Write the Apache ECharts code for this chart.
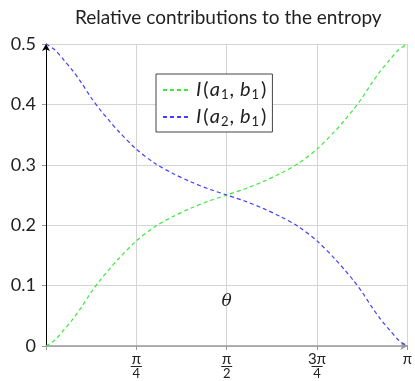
<!DOCTYPE html>
<html>
<head>
<meta charset="utf-8">
<script src="https://cdn.jsdelivr.net/npm/echarts@6/dist/echarts.min.js"></script>
<style>
  html, body { margin: 0; padding: 0; background: #fff; }
  #chart { width: 415px; height: 381px; }
</style>
</head>
<body>
<div id="chart"></div>
<script>
// theta sample positions, in units of pi
const theta = [0, 0.025, 0.05, 0.075, 0.1, 0.125, 0.15, 0.175, 0.2, 0.25, 0.3, 0.35, 0.4, 0.45, 0.5,
               0.55, 0.6, 0.65, 0.7, 0.75, 0.8, 0.825, 0.85, 0.875, 0.9, 0.925, 0.95, 0.975, 1];
// I(a1, b1)
const contribA1 = [0, 0.010, 0.027, 0.045, 0.066, 0.089, 0.109, 0.127, 0.144, 0.174, 0.197, 0.214, 0.228, 0.240, 0.250,
                   0.260, 0.272, 0.286, 0.303, 0.326, 0.356, 0.373, 0.391, 0.411, 0.434, 0.455, 0.473, 0.490, 0.500];
// I(a2, b1)
const contribA2 = [0.500, 0.490, 0.473, 0.455, 0.434, 0.411, 0.391, 0.373, 0.356, 0.326, 0.303, 0.286, 0.272, 0.260, 0.250,
                   0.240, 0.228, 0.214, 0.197, 0.174, 0.144, 0.127, 0.109, 0.089, 0.066, 0.045, 0.027, 0.010, 0];
const yTicks = [0, 0.1, 0.2, 0.3, 0.4, 0.5];
const xTickLabels = { 0.25: ['π', '4'], 0.5: ['π', '2'], 0.75: ['3π', '4'], 1: ['π', null] };
// series names and their math-style legend markup: I(a_k, b_1)
const seriesNames = ['I(a1, b1)', 'I(a2, b1)'];
const legendMarkup = {
  'I(a1, b1)': '{v|I}{p|(}{v|a}{s|1}{c|,}{v|b}{s|1}{p|)}',
  'I(a2, b1)': '{v|I}{p|(}{v|a}{s|2}{c|,}{v|b}{s|1}{p|)}'
};

const FONT = 'Lato, "Open Sans", sans-serif';
const chart = echarts.init(document.getElementById('chart'));

function pairs(ys) { return theta.map((t, i) => [t, ys[i]]); }

chart.setOption({
  animation: false,
  title: {
    text: 'Relative contributions to the entropy',
    left: 70, top: 3,
    textStyle: { fontFamily: FONT, fontSize: 19, fontWeight: 'normal', color: '#222' }
  },
  grid: { left: 46, right: 5, top: 44, bottom: 35 },
  legend: {
    orient: 'vertical',
    left: 156, top: 74,
    padding: [6, 6, 4, 6],
    itemGap: 6,
    itemWidth: 28, itemHeight: 14,
    borderColor: '#444', borderWidth: 1, borderRadius: 0,
    backgroundColor: '#fff',
    itemStyle: { opacity: 0 },
    formatter: name => legendMarkup[name],
    textStyle: {
      color: '#222',
      rich: {
        v: { fontFamily: FONT, fontStyle: 'italic', fontSize: 20, color: '#222', padding: [0, 1, 0, 0] },
        p: { fontFamily: FONT, fontSize: 20, color: '#222', padding: [0, 1, 0, 1] },
        c: { fontFamily: FONT, fontSize: 20, color: '#222', padding: [0, 6, 0, 0] },
        s: { fontFamily: FONT, fontSize: 13, color: '#222', padding: [9, 1, 0, 0] }
      }
    },
    data: seriesNames
  },
  xAxis: {
    type: 'value', min: 0, max: 1, interval: 0.25,
    name: 'θ', nameLocation: 'middle', nameGap: -53,
    nameTextStyle: { fontFamily: '"DejaVu Serif", serif', fontStyle: 'italic', fontSize: 17, color: '#222' },
    axisLine: { lineStyle: { color: '#999', width: 1.5 }, symbol: ['none', 'arrow'], symbolSize: [6, 7] },
    axisTick: { show: true, length: 4, lineStyle: { color: '#999' } },
    splitLine: { show: true, lineStyle: { color: '#d4d4d4', width: 1 } },
    axisLabel: {
      margin: 8, verticalAlign: 'top',
      formatter: v => {
        const f = xTickLabels[v];
        if (!f) return '';
        if (!f[1]) return '{n|' + f[0] + '}';
        return '{n|' + f[0] + '}\n{bar|}\n{d|' + f[1] + '}';
      },
      rich: {
        n: { fontFamily: FONT, fontSize: 15, lineHeight: 11, color: '#222', align: 'center' },
        bar: { width: 11, height: 1, lineHeight: 3, backgroundColor: '#222', align: 'center' },
        d: { fontFamily: FONT, fontSize: 13, lineHeight: 12, color: '#222', align: 'center' }
      }
    }
  },
  yAxis: {
    type: 'value', min: 0, max: 0.5, interval: 0.1,
    axisLine: { show: true, lineStyle: { color: '#000', width: 1 }, symbol: ['none', 'arrow'], symbolSize: [6, 7] },
    axisTick: { show: true, length: 4, lineStyle: { color: '#999' } },
    splitLine: { show: true, lineStyle: { color: '#d4d4d4', width: 1 } },
    axisLabel: {
      margin: 10, fontFamily: FONT, fontSize: 18, color: '#222',
      formatter: v => { const t = yTicks.find(y => Math.abs(y - v) < 1e-9); return t === 0 ? '0' : String(t); }
    }
  },
  series: [
    {
      name: seriesNames[0], type: 'line', data: pairs(contribA1), smooth: 0.3,
      symbol: 'none', color: '#3fe83f',
      lineStyle: { width: 1.2, type: [4, 3], color: '#3fe83f' }
    },
    {
      name: seriesNames[1], type: 'line', data: pairs(contribA2), smooth: 0.3,
      symbol: 'none', color: '#3f3fff',
      lineStyle: { width: 1.2, type: [4, 3], color: '#3f3fff' }
    }
  ]
});
</script>
</body>
</html>
